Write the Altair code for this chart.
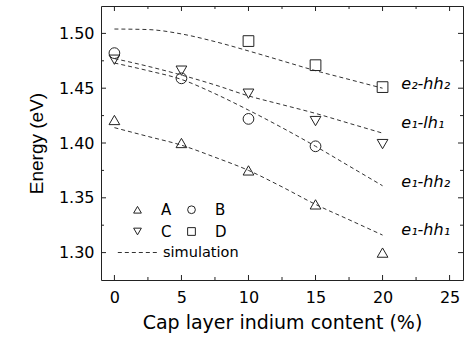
import altair as alt
import pandas as pd

# ---------------- data ----------------
x_vals = [0, 5, 10, 15, 20]
a_vals = [1.421, 1.400, 1.375, 1.344, 1.300]
b_x = [0, 5, 10, 15]
b_vals = [1.482, 1.459, 1.422, 1.397]
c_vals = [1.476, 1.466, 1.445, 1.420, 1.399]
d_x = [10, 15, 20]
d_vals = [1.493, 1.471, 1.451]

sim_x = [0, 2.5, 5, 7.5, 10, 12.5, 15, 17.5, 20]
sim_e2hh2 = [1.504, 1.5035, 1.4995, 1.4925, 1.484, 1.475, 1.466, 1.458, 1.450]
sim_e1lh1 = [1.477, 1.470, 1.462, 1.453, 1.443, 1.435, 1.427, 1.418, 1.409]
sim_e1hh2 = [1.473, 1.466, 1.458, 1.445, 1.430, 1.414, 1.397, 1.379, 1.361]
sim_e1hh1 = [1.414, 1.406, 1.398, 1.387, 1.375, 1.360, 1.344, 1.330, 1.316]

curve_labels = ["e\u2082-hh\u2082", "e\u2081-lh\u2081", "e\u2081-hh\u2082", "e\u2081-hh\u2081"]
curve_label_x = [21.4, 21.4, 21.4, 21.4]
curve_label_y = [1.4535, 1.4186, 1.3645, 1.3204]

# legend order (laid out column by column -> rows read A B / C D)
sample_names = ["A", "C", "B", "D"]
sample_shapes = ["triangle-up", "triangle-down", "circle", "square"]

x_major = [0, 5, 10, 15, 20, 25]
x_minor = [2.5, 7.5, 12.5, 17.5, 22.5]
y_major = [1.30, 1.35, 1.40, 1.45, 1.50]
y_minor = [1.325, 1.375, 1.425, 1.475]

# ---------------- tables ----------------
pts = pd.concat([
    pd.DataFrame({"x": x_vals, "y": a_vals, "sample": "A"}),
    pd.DataFrame({"x": b_x, "y": b_vals, "sample": "B"}),
    pd.DataFrame({"x": x_vals, "y": c_vals, "sample": "C"}),
    pd.DataFrame({"x": d_x, "y": d_vals, "sample": "D"}),
], ignore_index=True)

sim = pd.concat([
    pd.DataFrame({"x": sim_x, "y": v, "curve": n, "kind": "simulation"})
    for n, v in zip(curve_labels, [sim_e2hh2, sim_e1lh1, sim_e1hh2, sim_e1hh1])
], ignore_index=True)

labels = pd.DataFrame({"x": curve_label_x, "y": curve_label_y, "text": curve_labels})

W, H = 362, 274
FONT = "DejaVu Sans"
XS = alt.Scale(domain=[-1, 26], nice=False, zero=False)
YS = alt.Scale(domain=[1.275, 1.525], nice=False, zero=False)

xaxis = alt.Axis(values=x_major, ticks=False, domain=False, grid=False,
                 labelFont=FONT, labelFontSize=16, labelColor="black", labelPadding=9,
                 title="Cap layer indium content (%)", titleFont=FONT, titleFontSize=19,
                 titleFontWeight="normal", titleColor="black", titlePadding=8)
yaxis = alt.Axis(values=y_major, format=".2f", ticks=False, domain=False, grid=False,
                 labelFont=FONT, labelFontSize=16, labelColor="black", labelPadding=7,
                 title="Energy (eV)", titleFont="Liberation Sans", titleFontSize=19,
                 titleFontWeight="normal", titleColor="black", titlePadding=12)

lines = alt.Chart(sim).mark_line(color="#333", strokeWidth=1, interpolate="monotone").encode(
    x=alt.X("x:Q", scale=XS, axis=xaxis),
    y=alt.Y("y:Q", scale=YS, axis=yaxis),
    detail="curve:N",
    strokeDash=alt.StrokeDash(
        "kind:N",
        scale=alt.Scale(domain=["simulation"], range=[[4, 3]]),
        legend=alt.Legend(title=None, orient="none", legendX=16, legendY=226,
                          symbolType="stroke", symbolSize=1550, symbolStrokeWidth=1,
                          symbolStrokeColor="#333", labelFont=FONT, labelFontSize=14.5,
                          labelColor="black", labelOffset=5, padding=0),
    ),
)

points = alt.Chart(pts).mark_point(filled=False, size=115, color="#222", strokeWidth=1,
                                   opacity=1).encode(
    x=alt.X("x:Q", scale=XS),
    y=alt.Y("y:Q", scale=YS),
    shape=alt.Shape(
        "sample:N",
        scale=alt.Scale(domain=sample_names, range=sample_shapes),
        legend=alt.Legend(title=None, orient="none", legendX=29, legendY=196, columns=2,
                          symbolSize=60, symbolStrokeWidth=1, symbolStrokeColor="#222",
                          symbolFillColor="transparent", labelFont=FONT, labelFontSize=15,
                          labelColor="black", labelOffset=16, columnPadding=12,
                          rowPadding=6, padding=0),
    ),
)

texts = alt.Chart(labels).mark_text(align="left", baseline="middle", font=FONT,
                                    fontSize=16, fontStyle="italic", color="black").encode(
    x=alt.X("x:Q", scale=XS),
    y=alt.Y("y:Q", scale=YS),
    text="text:N",
)

# inward ticks on all four sides
def xt(vals, length):
    df = pd.DataFrame({"v": vals})
    bottom = alt.Chart(df).mark_rule(color="#222", strokeWidth=1).encode(
        x=alt.X("v:Q", scale=XS), y=alt.value(H), y2=alt.value(H - length))
    top = alt.Chart(df).mark_rule(color="#222", strokeWidth=1).encode(
        x=alt.X("v:Q", scale=XS), y=alt.value(0), y2=alt.value(length))
    return [bottom, top]

def yt(vals, length):
    df = pd.DataFrame({"v": vals})
    left = alt.Chart(df).mark_rule(color="#222", strokeWidth=1).encode(
        y=alt.Y("v:Q", scale=YS), x=alt.value(0), x2=alt.value(length))
    right = alt.Chart(df).mark_rule(color="#222", strokeWidth=1).encode(
        y=alt.Y("v:Q", scale=YS), x=alt.value(W), x2=alt.value(W - length))
    return [left, right]

ticks = xt(x_major, 5) + xt(x_minor, 3) + yt(y_major, 5) + yt(y_minor, 3)

chart = alt.layer(lines, points, texts, *ticks).resolve_scale(
    shape="independent", strokeDash="independent"
).properties(
    width=W, height=H,
    autosize=alt.AutoSizeParams(type="none"),
    padding={"left": 101, "top": 6, "right": 3, "bottom": 63},
    background="white",
).configure_view(stroke="#222", strokeWidth=1)

chart.save("out.html", embed_options={"renderer": "svg", "actions": False})
